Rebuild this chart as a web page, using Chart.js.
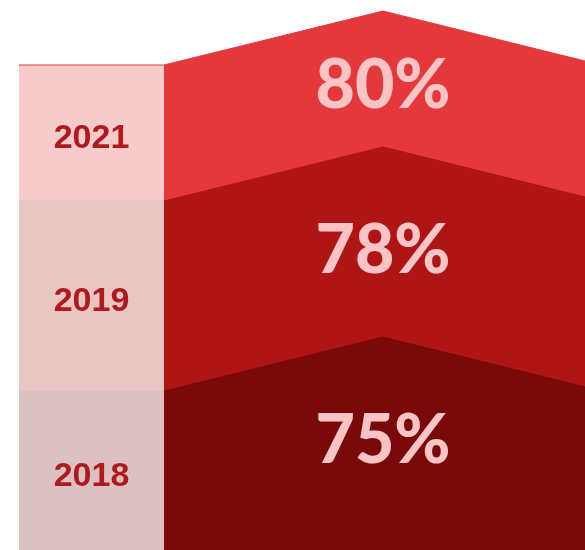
<!DOCTYPE html>
<html>
<head>
<meta charset="utf-8">
<script src="https://cdn.jsdelivr.net/npm/chart.js@4"></script>
<style>
  body { margin: 0; background: #fff; }
  #wrap { width: 585px; height: 550px; }
</style>
</head>
<body>
<div id="wrap"><canvas id="myChart" width="585" height="550"></canvas></div>
<script>
// data
var years = ['2021', '2019', '2018'];
var shares = [80, 78, 75];

// colours per band
var bandColors = ['#e4383a', '#b01516', '#790a09'];
var boxColors = ['#f7cacb', '#e9c5c4', '#dcc1c2'];

// layout (canvas-like units, y grows downward)
var W = 585, H = 550;
var boxLeft = 19, boxRight = 164, peakX = 383;
var firstTop = 65;
var bandHeights = [136, 190, 190];
var rise = 54;      // left edge -> peak
var fall = 50;      // peak -> right edge

var tops = [];
var t = firstTop;
for (var i = 0; i < years.length; i++) {
    tops.push(t);
    t += bandHeights[i];
}

var datasets = [];
for (var i = 0; i < years.length; i++) {
    var bandTop = tops[i];
    // chevron band
    datasets.push({
        data: [
            { x: boxRight, y: bandTop },
            { x: peakX, y: bandTop - rise },
            { x: W, y: bandTop - rise + fall }
        ],
        showLine: true,
        borderColor: bandColors[i],
        backgroundColor: bandColors[i],
        borderWidth: 1,
        pointRadius: 0,
        fill: { value: H },
        order: 10 - i
    });
    // year box
    datasets.push({
        data: [
            { x: boxLeft, y: bandTop },
            { x: boxRight, y: bandTop }
        ],
        showLine: true,
        borderColor: i === 0 ? '#e4383a' : boxColors[i],
        backgroundColor: boxColors[i],
        borderWidth: 1,
        pointRadius: 0,
        fill: { value: H },
        order: 10 - i
    });
}

var labelsPlugin = {
    id: 'bandLabels',
    afterDatasetsDraw: function(chart) {
        var c = chart.ctx;
        var x = chart.scales.x, y = chart.scales.y;
        c.save();
        c.textAlign = 'center';
        c.textBaseline = 'middle';
        for (var i = 0; i < years.length; i++) {
            var yTop = tops[i];
            var yBottom = Math.min(yTop + bandHeights[i], H);
            // year
            c.fillStyle = '#b01a1e';
            c.font = 'bold 34px "Liberation Sans", Arial, sans-serif';
            c.fillText(years[i], x.getPixelForValue((boxLeft + boxRight) / 2),
                y.getPixelForValue((yTop + yBottom) / 2 + 6));
            // value
            c.fillStyle = '#f8c4c5';
            c.font = '900 68px Lato, sans-serif';
            var peakY = yTop - rise;
            c.fillText(shares[i] + '%', x.getPixelForValue(peakX),
                y.getPixelForValue(peakY + bandHeights[i] * 0.53 + 3));
        }
        c.restore();
    }
};

var ctx = document.getElementById('myChart');
var myChart = new Chart(ctx, {
    type: 'scatter',
    data: { datasets: datasets },
    options: {
        responsive: false,
        animation: false,
        devicePixelRatio: 1,
        layout: { padding: 0 },
        scales: {
            x: { type: 'linear', min: 0, max: W, display: false },
            y: { type: 'linear', min: 0, max: H, reverse: true, display: false }
        },
        plugins: {
            legend: { display: false },
            tooltip: { enabled: false }
        }
    },
    plugins: [labelsPlugin]
});
</script>
</body>
</html>
